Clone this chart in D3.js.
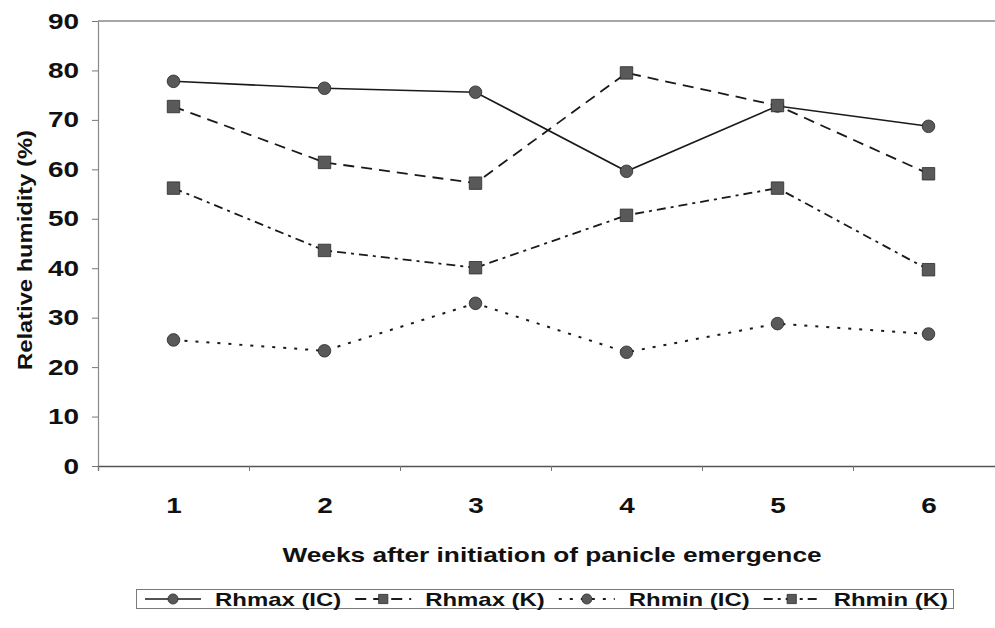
<!DOCTYPE html>
<html>
<head>
<meta charset="utf-8">
<script src="https://cdn.jsdelivr.net/npm/d3@7"></script>
<style>
html,body{margin:0;padding:0;background:#fff;}
svg{display:block;}
text{font-family:"Liberation Sans",Arial,sans-serif;fill:#111;}
</style>
</head>
<body>
<svg id="chart" width="995" height="628"></svg>
<script>
const weeks = [1, 2, 3, 4, 5, 6];
const rhmaxIC = [77.8, 76.4, 75.6, 59.6, 72.8, 68.7];
const rhmaxK  = [72.7, 61.4, 57.2, 79.5, 72.9, 59.1];
const rhminIC = [25.5, 23.3, 32.9, 23.0, 28.8, 26.7];
const rhminK  = [56.2, 43.6, 40.1, 50.7, 56.2, 39.7];
const yTicks = [0, 10, 20, 30, 40, 50, 60, 70, 80, 90];
const seriesNames = ["Rhmax (IC)", "Rhmax (K)", "Rhmin (IC)", "Rhmin (K)"];

const series = [
  {name: seriesNames[0], values: rhmaxIC, shape: "circle", dash: null, width: 1.6},
  {name: seriesNames[1], values: rhmaxK,  shape: "square", dash: "11,7", width: 1.8},
  {name: seriesNames[2], values: rhminIC, shape: "circle", dash: "3,8", width: 2},
  {name: seriesNames[3], values: rhminK,  shape: "square", dash: "9,5,3,5", width: 1.8}
];

const SX = 1.27; // horizontal text stretch seen in the reference
const svg = d3.select("#chart");
const pLeft = 98, pRight = 1004, pTop = 21, pBottom = 466;

const x = d3.scaleBand().domain(weeks).range([pLeft, pRight]).padding(0);
const xc = d => x(d) + x.bandwidth() / 2;
const xb = d3.scaleLinear().domain([0, weeks.length]).range([pLeft, pRight]);
const y = d3.scaleLinear().domain([0, 90]).range([pBottom, pTop]);

function stretch(sel, s) {
  sel.each(function() {
    const t = d3.select(this);
    const tx = +t.attr("x") || 0;
    t.attr("x", 0).attr("transform", `translate(${tx},0) scale(${s},1)`);
  });
}

// top border of plot area
svg.append("line").attr("x1", pLeft).attr("x2", 995).attr("y1", y(90)).attr("y2", y(90))
  .attr("stroke", "#8a8a8a").attr("stroke-width", 1.3);

// y axis
const gy = svg.append("g").attr("transform", `translate(${pLeft},0)`)
  .call(d3.axisLeft(y).tickValues(yTicks).tickSize(6).tickPadding(13).tickSizeOuter(0));
gy.select(".domain").attr("stroke", "#8a8a8a").attr("stroke-width", 1.2);
gy.selectAll(".tick line").attr("stroke", "#777");
gy.selectAll(".tick text").attr("font-size", 22).attr("font-weight", "bold")
  .attr("font-family", "Liberation Sans, Arial, sans-serif").attr("fill", "#111");
stretch(gy.selectAll(".tick text"), SX);

// x axis boundary ticks
const gxb = svg.append("g").attr("transform", `translate(0,${pBottom})`)
  .call(d3.axisBottom(xb).tickValues(d3.range(0, weeks.length + 1)).tickSize(5).tickFormat(""));
gxb.select(".domain").attr("stroke", "#555").attr("stroke-width", 1.3);
gxb.selectAll(".tick line").attr("stroke", "#777");

// x axis labels
const gx = svg.append("g").attr("transform", `translate(0,${pBottom})`)
  .call(d3.axisBottom(d3.scalePoint().domain(weeks).range([xc(1), xc(6)])).tickSize(0).tickPadding(31));
gx.select(".domain").remove();
gx.selectAll(".tick text").attr("font-size", 22).attr("font-weight", "bold")
  .attr("font-family", "Liberation Sans, Arial, sans-serif").attr("fill", "#111")
  .attr("transform", `scale(${SX},1)`);

// axis titles
svg.append("text").attr("font-size", 21).attr("font-weight", "bold").attr("text-anchor", "middle")
  .attr("transform", `translate(552,562) scale(${SX - 0.02},1)`)
  .text("Weeks after initiation of panicle emergence");
svg.append("text").attr("font-size", 21).attr("font-weight", "bold").attr("text-anchor", "middle")
  .attr("transform", `translate(32,250) rotate(-90) scale(1.13,1)`)
  .text("Relative humidity (%)");

// lines
const line = d3.line().x((d, i) => xc(weeks[i])).y(d => y(d));
const sym = s => s === "circle" ? d3.symbolCircle : d3.symbolSquare;
series.forEach(s => {
  svg.append("path").datum(s.values).attr("d", line).attr("fill", "none")
    .attr("stroke", "#1a1a1a").attr("stroke-width", s.width)
    .attr("stroke-dasharray", s.dash);
});
series.forEach(s => {
  svg.append("g").selectAll("path").data(s.values).join("path")
    .attr("transform", (d, i) => `translate(${xc(weeks[i])},${y(d)})`)
    .attr("d", d3.symbol().type(sym(s.shape)).size(s.shape === "circle" ? 125 : 155))
    .attr("fill", "#595959").attr("stroke", "#2a2a2a").attr("stroke-width", 0.8);
});

// legend
const lg = svg.append("g");
lg.append("rect").attr("x", 136.5).attr("y", 589.5).attr("width", 817).attr("height", 19)
  .attr("fill", "#fff").attr("stroke", "#7a7a7a").attr("stroke-width", 1);
let cx = 145;
const LS = 1.33;
series.forEach((s, k) => {
  const sw = 56;
  lg.append("line").attr("x1", cx).attr("x2", cx + sw).attr("y1", 599).attr("y2", 599)
    .attr("stroke", "#1a1a1a").attr("stroke-width", s.width).attr("stroke-dasharray", s.dash);
  lg.append("path").attr("transform", `translate(${cx + sw / 2},599)`)
    .attr("d", d3.symbol().type(sym(s.shape)).size(s.shape === "circle" ? 80 : 85))
    .attr("fill", "#595959").attr("stroke", "#2a2a2a").attr("stroke-width", 0.8);
  const t = lg.append("text").attr("font-size", 18).attr("font-weight", "bold")
    .attr("transform", `translate(${cx + sw + 14},606) scale(${LS},1)`).text(s.name);
  const w = t.node().getComputedTextLength() * LS;
  cx = cx + sw + 14 + w + 14;
});
</script>
</body>
</html>
